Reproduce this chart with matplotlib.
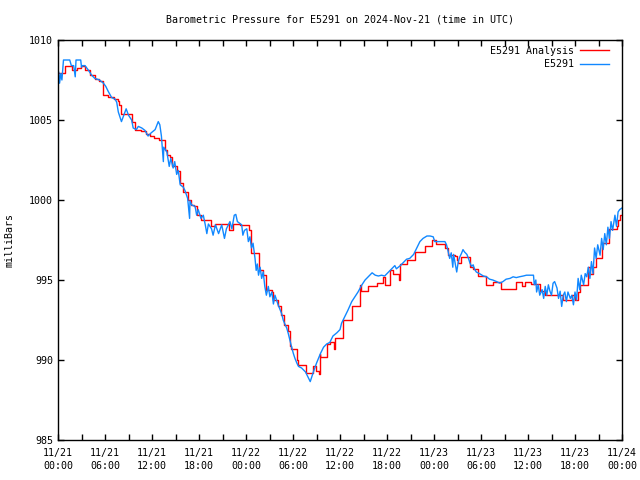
import numpy as np
import matplotlib
matplotlib.use('Agg')
import matplotlib.pyplot as plt

# Observations (blue), hours after 2024-11-21 00:00 UTC
obs_hours = [0.0, 0.1, 0.2, 0.35, 0.5, 0.7, 1.0, 1.5, 1.7, 2.0, 2.2, 2.3, 2.9, 3.0, 3.1, 3.45,
             3.9, 4.3, 4.7, 5.3, 5.8, 6.1, 6.4, 6.85, 7.3, 7.5, 7.7, 8.1, 8.4, 8.7, 9.0, 9.4,
             9.6, 10.0, 10.25, 10.7, 11.1, 11.5, 11.9, 12.4, 12.8, 13.0, 13.2, 13.45, 13.5, 13.9,
             14.2, 14.4, 14.7, 14.9, 15.15, 15.35, 15.6, 16.0, 16.2, 16.55, 16.8, 16.85, 17.05,
             17.5, 17.7, 17.9, 18.25, 18.55, 18.8, 19.0, 19.2, 19.6, 19.8, 20.1, 20.5, 20.9,
             21.25, 21.5, 21.95, 22.2, 22.5, 22.7, 22.9, 23.45, 23.6, 23.8, 24.1, 24.3, 24.5,
             24.7, 24.9, 25.15, 25.3, 25.45, 25.6, 25.8, 26.0, 26.2, 26.4, 26.6, 26.85, 27.05,
             27.3, 27.5, 27.7, 27.9, 28.1, 28.55, 28.75, 29.0, 29.2, 29.4, 29.6, 29.8, 30.05,
             30.25, 30.5, 30.7, 31.1, 31.6, 31.8, 32.2, 32.4, 32.6, 33.0, 33.5, 33.9, 34.3,
             34.7, 35.1, 35.6, 36.0, 36.2, 36.6, 37.0, 37.5, 37.9, 38.3, 38.8, 39.2, 39.6,
             40.1, 40.5, 40.9, 41.3, 41.7, 42.2, 42.6, 43.0, 43.2, 43.7, 44.1, 44.5, 44.9,
             45.4, 45.8, 46.2, 46.6, 47.1, 47.5, 47.9, 48.1, 49.4, 49.6, 49.8, 50.0, 50.2,
             50.4, 50.5, 50.7, 50.9, 51.1, 51.3, 51.5, 51.7, 51.9, 52.2, 52.4, 52.6, 52.8,
             53.0, 53.2, 53.4, 53.8, 54.3, 54.7, 55.1, 55.5, 56.0, 56.4, 56.8, 57.2, 57.7,
             58.1, 58.5, 58.9, 59.4, 59.8, 60.7, 60.8, 61.0, 61.1, 61.3, 61.5, 61.8, 62.0,
             62.2, 62.4, 62.6, 62.8, 63.0, 63.2, 63.4, 63.7, 63.9, 64.1, 64.3, 64.5, 64.7,
             64.9, 65.1, 65.4, 65.6, 65.8, 66.0, 66.2, 66.4, 66.6, 66.8, 67.1, 67.3, 67.5,
             67.7, 67.9, 68.1, 68.3, 68.5, 68.7, 68.9, 69.2, 69.4, 69.6, 69.8, 70.0, 70.2,
             70.4, 70.6, 70.8, 71.1, 71.3, 71.5, 71.7, 72.0]
obs_mb = [1007.4, 1008.0, 1007.3, 1007.9, 1007.5, 1008.75, 1008.75, 1008.75, 1008.4, 1008.4,
          1007.7, 1008.75, 1008.75, 1008.3, 1008.4, 1008.4, 1008.1, 1007.8, 1007.6, 1007.5,
          1007.3, 1007.1, 1006.8, 1006.4, 1006.3, 1006.1, 1005.5, 1004.9, 1005.3, 1005.7,
          1005.3, 1005.0, 1004.5, 1004.4, 1004.6, 1004.5, 1004.35, 1004.0, 1004.2, 1004.4,
          1004.9, 1004.7, 1004.0, 1002.4, 1003.3, 1003.0, 1002.1, 1002.6, 1002.0, 1002.4,
          1001.6, 1001.85, 1000.95, 1000.8, 1000.6, 1000.1, 998.85, 999.95, 999.7, 999.6,
          999.05, 999.4, 998.85, 999.05, 998.45, 997.9, 998.5, 998.2, 997.8, 998.45, 997.9,
          998.45, 997.6, 998.2, 998.65, 998.2, 999.05, 999.1, 998.65, 998.45, 997.8, 998.1,
          998.2, 997.4, 997.7, 997.0, 997.3, 996.35, 995.6, 996.0, 995.3, 995.8, 995.1,
          995.5, 994.6, 994.05, 994.6, 993.95, 994.25, 993.5, 994.05, 993.75, 993.45,
          992.9, 992.5, 992.2, 992.0, 991.65, 991.25, 990.85, 990.4, 990.1, 989.8, 989.6,
          989.5, 989.25, 989.05, 988.65, 988.95, 989.25, 989.8, 990.4, 990.8, 991.0, 991.1,
          991.5, 991.7, 991.9, 992.3, 992.7, 993.1, 993.65, 993.95, 994.25, 994.7, 995.0,
          995.2, 995.45, 995.3, 995.25, 995.3, 995.25, 995.5, 995.7, 995.9, 995.7, 995.9,
          996.1, 996.3, 996.35, 996.6, 997.0, 997.4, 997.6, 997.75, 997.75, 997.7, 997.4,
          997.4, 997.2, 996.8, 996.35, 996.7, 995.8, 996.6, 996.05, 995.5, 996.15, 996.45,
          996.65, 996.9, 996.75, 996.6, 996.35, 996.05, 995.85, 995.95, 995.65, 995.5,
          995.4, 995.25, 995.2, 995.05, 995.0, 994.9, 994.8, 994.9, 995.05, 995.1, 995.2,
          995.15, 995.2, 995.25, 995.3, 995.3, 994.7, 995.0, 994.25, 994.7, 994.05, 994.4,
          993.85, 994.6, 994.05, 994.7, 994.3, 994.05, 994.8, 994.9, 994.5, 993.85, 994.3,
          993.35, 994.05, 994.25, 993.65, 994.25, 993.85, 994.05, 993.45, 994.25, 993.75,
          995.1, 994.4, 995.3, 994.7, 995.4, 995.2, 995.8, 995.1, 996.15, 995.4, 997.0,
          996.35, 997.2, 996.55, 997.6, 996.9, 997.9, 997.2, 998.3, 997.6, 998.65, 998.1,
          999.05, 998.35, 999.25, 999.4, 999.5]

# Analysis (red), stepped
ana_hours = [0.0, 0.9, 1.8, 2.4, 2.9, 3.5, 4.1, 4.7, 5.2, 5.7, 6.4, 7.1, 7.6, 7.8, 8.0, 9.4,
             9.8, 10.6, 11.2, 11.8, 12.3, 12.9, 13.6, 13.9, 14.3, 14.5, 15.2, 15.6, 15.9,
             16.6, 17.0, 17.4, 17.7, 18.3, 19.5, 20.0, 21.8, 22.4, 23.2, 24.4, 24.7, 25.6,
             26.2, 26.6, 27.3, 27.5, 28.1, 28.5, 28.8, 29.4, 29.6, 29.8, 30.5, 30.7, 31.7,
             32.5, 32.9, 33.3, 33.4, 33.5, 34.4, 34.7, 35.2, 35.4, 36.4, 37.5, 38.6, 38.7,
             39.6, 40.7, 41.5, 41.7, 42.4, 42.8, 43.5, 43.7, 44.5, 45.6, 46.8, 47.7, 48.3,
             49.4, 49.8, 50.7, 50.9, 51.1, 51.5, 52.6, 53.0, 53.6, 54.7, 55.5, 56.6, 58.5,
             59.2, 59.6, 60.4, 61.5, 62.2, 64.5, 65.6, 66.0, 66.4, 66.6, 67.7, 67.9, 68.3,
             68.7, 69.4, 70.4, 71.3, 71.5, 71.7, 72.0]
ana_mb = [1007.95, 1008.35, 1008.15, 1008.25, 1008.4, 1008.1, 1007.8, 1007.55, 1007.45,
          1006.55, 1006.45, 1006.3, 1006.2, 1005.95, 1005.4, 1004.9, 1004.35, 1004.3,
          1004.15, 1004.0, 1003.9, 1003.75, 1003.1, 1002.8, 1002.7, 1002.1, 1001.8, 1001.05,
          1000.5, 1000.0, 999.7, 999.6, 999.05, 998.75, 998.35, 998.5, 998.1, 998.5, 998.45,
          998.1, 996.7, 995.6, 995.3, 994.4, 994.25, 993.75, 993.4, 992.8, 992.2, 991.8,
          990.9, 990.7, 990.0, 989.7, 989.2, 989.6, 989.3, 989.1, 990.4, 990.2, 991.0, 991.1,
          990.7, 991.35, 992.5, 993.4, 994.7, 994.3, 994.6, 994.8, 995.2, 994.7, 995.6,
          995.4, 995.0, 996.0, 996.25, 996.75, 997.1, 997.5, 997.25, 997.0, 996.55, 996.5,
          996.25, 996.05, 996.45, 995.8, 995.7, 995.25, 994.7, 994.85, 994.45, 994.9, 994.6,
          994.9, 994.75, 994.3, 994.05, 993.75, 994.05, 993.75, 994.25, 994.7, 995.8, 995.4,
          995.8, 996.35, 997.3, 998.2, 998.4, 998.75, 999.05, 999.05]

tick_hours = np.arange(0, 73, 6)
tick_labels = ['11/21\n00:00', '11/21\n06:00', '11/21\n12:00', '11/21\n18:00',
               '11/22\n00:00', '11/22\n06:00', '11/22\n12:00', '11/22\n18:00',
               '11/23\n00:00', '11/23\n06:00', '11/23\n12:00', '11/23\n18:00',
               '11/24\n00:00']

plt.rcParams['font.family'] = ['DejaVu Sans Mono']

fig = plt.figure(figsize=(6.4, 4.8), dpi=100)
ax = fig.add_axes([58 / 640, 40 / 480, 564 / 640, 400 / 480])

ax.plot(ana_hours, ana_mb, color='#ff0000', lw=1.0, drawstyle='steps-post',
        label='E5291 Analysis')
ax.plot(obs_hours, obs_mb, color='#1188ff', lw=1.0, label='         E5291')

ax.set_xlim(0, 72)
ax.set_ylim(985, 1010)
ax.set_xticks(tick_hours)
ax.set_xticklabels(tick_labels, fontsize=7.2, linespacing=1.35)
ax.set_xticks(np.arange(3, 72, 6), minor=True)
ax.set_yticks(np.arange(985, 1011, 5))
ax.tick_params(axis='y', labelsize=7.2)
ax.tick_params(axis='x', pad=6)
ax.tick_params(which='both', direction='in', top=True, right=True, length=4, width=1)

for s in ax.spines.values():
    s.set_linewidth(1.0)

fig.text(340 / 640, 1 - 20 / 480, 'Barometric Pressure for E5291 on 2024-Nov-21 (time in UTC)',
         ha='center', va='center', fontsize=7.2)
fig.text(10 / 640, 0.5, 'milliBars', rotation=90, ha='center', va='center', fontsize=7.2)

leg = ax.legend(loc='upper right', bbox_to_anchor=(1 - 6 / 564, 1 + 1 / 400),
                frameon=False, markerfirst=False, fontsize=7.2,
                handlelength=2.9, handletextpad=0.6, labelspacing=0.35, borderaxespad=0.3)

fig.savefig('out.png', dpi=100)
